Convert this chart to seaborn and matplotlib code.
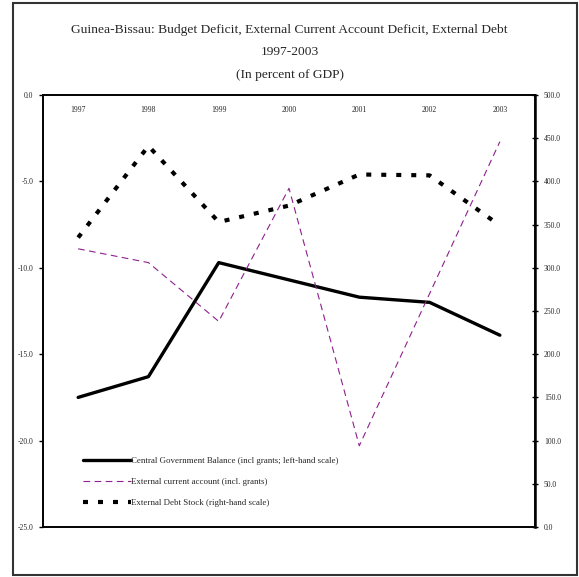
import matplotlib
matplotlib.use("Agg")
import matplotlib.pyplot as plt
import matplotlib.patches as mpatches
import seaborn as sns
import pandas as pd
import numpy as np

years = ["1997", "1998", "1999", "2000", "2001", "2002", "2003"]
gov_balance = [-17.5, -16.3, -9.7, -10.7, -11.7, -12.0, -13.9]
current_account = [-8.9, -9.7, -13.1, -5.4, -20.3, -11.5, -2.7]
debt_stock = [335, 441, 353, 372, 408, 407, 349]

left_ticks = [0, -5, -10, -15, -20, -25]
right_ticks = [0, 50, 100, 150, 200, 250, 300, 350, 400, 450, 500]

sns.set_theme(style="white")
plt.rcParams["font.family"] = ["Liberation Serif", "DejaVu Serif"]

df = pd.DataFrame({
    "x": np.arange(len(years)),
    "gov": gov_balance,
    "ca": current_account,
    "debt": debt_stock,
})

fig = plt.figure(figsize=(5.79, 5.77), dpi=100)
W, H = 579, 577
ax = fig.add_axes([43 / W, 1 - 527 / H, (535 - 43) / W, (527 - 95) / H])
ax2 = ax.twinx()

sns.lineplot(data=df, x="x", y="gov", ax=ax, color="black", linewidth=2.4,
             label="Central Government Balance (incl grants; left-hand scale)", legend=False)
sns.lineplot(data=df, x="x", y="ca", ax=ax, color="#8e1f8e", linewidth=0.8,
             label="External current account (incl. grants)", legend=False)
ax.lines[1].set_dashes((6, 4))
sns.lineplot(data=df, x="x", y="debt", ax=ax2, color="black", linewidth=3.0,
             label="External Debt Stock (right-hand scale)", legend=False)
ax2.lines[0].set_dashes((1.2, 2.4))
ax2.lines[0].set_dash_capstyle("butt")

ax.set_xlim(-0.5, len(years) - 0.5)
ax.set_ylim(-25, 0)
ax2.set_ylim(0, 500)

ax.set_yticks(left_ticks)
ax.set_yticklabels([f"{v:.1f}" for v in left_ticks], fontsize=5.5)
ax2.set_yticks(right_ticks)
ax2.set_yticklabels([f"{v:.1f}" for v in right_ticks], fontsize=5.5)

ax.xaxis.tick_top()
ax.set_xticks(df["x"])
ax.set_xticklabels(years, fontsize=5.5)
ax.tick_params(axis="x", length=0, pad=-14, labeltop=True, labelbottom=False)
ax.tick_params(axis="y", direction="out", length=3, width=1, color="black", pad=4)
ax2.tick_params(axis="y", direction="inout", length=5, width=1, color="black", pad=4)

ax.set_xlabel("")
ax.set_ylabel("")
ax2.set_ylabel("")

for a in (ax, ax2):
    for s in a.spines.values():
        s.set_color("black")
        s.set_linewidth(1.2)
ax2.spines["right"].set_linewidth(1.8)

h1, l1 = ax.get_legend_handles_labels()
h2, l2 = ax2.get_legend_handles_labels()
leg = ax2.legend(h1 + h2, l1 + l2, loc="lower left", bbox_to_anchor=(0.075, 0.037),
                 frameon=False, fontsize=6.4, handlelength=5.3, handletextpad=0.1,
                 labelspacing=1.45, borderaxespad=0)

fig.text(0.5, 1 - 30 / H, "Guinea-Bissau: Budget Deficit, External Current Account Deficit, External Debt",
         ha="center", va="center", fontsize=9.7)
fig.text(0.5, 1 - 52 / H, "1997-2003", ha="center", va="center", fontsize=9.7)
fig.text(0.5, 1 - 75 / H, "(In percent of GDP)", ha="center", va="center", fontsize=9.7)

border = mpatches.Rectangle((13 / W, 1 - 575 / H), (577 - 13) / W, (575 - 3) / H,
                            transform=fig.transFigure, fill=False, edgecolor="#333333",
                            linewidth=1.5)
fig.add_artist(border)

fig.savefig("out.png", dpi=100)
